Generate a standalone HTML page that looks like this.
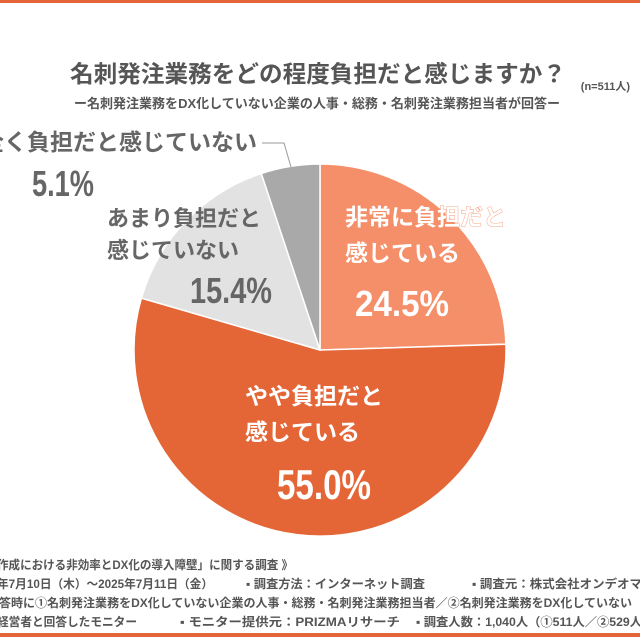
<!DOCTYPE html>
<html><head><meta charset="utf-8"><style>
body{margin:0;width:640px;height:637px;overflow:hidden;background:#fff;font-family:"Liberation Sans","Noto Sans CJK JP",sans-serif;}
</style></head><body>
<svg width="640" height="637" viewBox="0 0 640 637" xmlns="http://www.w3.org/2000/svg" style="font-family:'Liberation Sans','Noto Sans CJK JP',sans-serif;font-weight:bold">
<rect x="0" y="0" width="640" height="3" fill="#E5653A"/>
<rect x="0" y="633" width="640" height="4" fill="#E5653A"/>
<text x="70" y="82" font-size="23.5" fill="#555" textLength="496" lengthAdjust="spacingAndGlyphs">名刺発注業務をどの程度負担だと感じますか？</text>
<text x="630" y="90" text-anchor="end" font-size="11" fill="#555">(n=511人)</text>
<text x="74" y="108" font-size="13" fill="#555" textLength="486" lengthAdjust="spacingAndGlyphs">ー名刺発注業務をDX化していない企業の人事・総務・名刺発注業務担当者が回答ー</text>
<g stroke="#fff" stroke-width="1.5">
<path d="M320,350 L320,164 A186,186 0 0 1 505.9,344.2 Z" fill="#F58F6A"/>
<path d="M320,350 L505.9,344.2 A186,186 0 1 1 141.4,298.1 Z" fill="#E46535"/>
<path d="M320,350 L141.4,298.1 A186,186 0 0 1 261.3,173.5 Z" fill="#E2E2E2"/>
<path d="M320,350 L261.3,173.5 A186,186 0 0 1 320,164 Z" fill="#A9A9A9"/>
</g>
<polyline points="262,143 284,143 291,167" fill="none" stroke="#999" stroke-width="1"/>
<text x="257" y="150" text-anchor="end" font-size="23" fill="#666">全く負担だと感じていない</text>
<text x="32" y="196" font-size="36" fill="#666" textLength="62" lengthAdjust="spacingAndGlyphs">5.1%</text>
<text x="107" y="226" font-size="22" fill="#666">あまり負担だと</text>
<text x="107" y="258" font-size="22" fill="#666">感じていない</text>
<text x="190" y="303" font-size="36" fill="#666" textLength="82" lengthAdjust="spacingAndGlyphs">15.4%</text>
<text x="345" y="225" font-size="23" fill="#fff" stroke="#F58F6A" stroke-width="0.8" paint-order="stroke">非常に負担だと</text>
<text x="345" y="261" font-size="23" fill="#fff">感じている</text>
<text x="355" y="316" font-size="36" fill="#fff" textLength="94" lengthAdjust="spacingAndGlyphs">24.5%</text>
<text x="245" y="404" font-size="23" fill="#fff">やや負担だと</text>
<text x="245" y="440" font-size="23" fill="#fff">感じている</text>
<text x="277" y="499" font-size="42" fill="#fff" textLength="94" lengthAdjust="spacingAndGlyphs">55.0%</text>
<g font-size="12" fill="#555" lengthAdjust="spacingAndGlyphs">
<text x="-3" y="569" textLength="296" lengthAdjust="spacingAndGlyphs">作成における非効率とDX化の導入障壁」に関する調査 》</text>
<text x="-3" y="588" textLength="216" lengthAdjust="spacingAndGlyphs">年7月10日（木）～2025年7月11日（金）</text>
<text x="246" y="588" textLength="179" lengthAdjust="spacingAndGlyphs">▪ 調査方法：インターネット調査</text>
<text x="472" y="588" textLength="170" lengthAdjust="spacingAndGlyphs">▪ 調査元：株式会社オンデオマ</text>
<text x="-1" y="607" textLength="633" lengthAdjust="spacingAndGlyphs">答時に①名刺発注業務をDX化していない企業の人事・総務・名刺発注業務担当者／②名刺発注業務をDX化していない</text>
<text x="-3" y="626" textLength="140" lengthAdjust="spacingAndGlyphs">経営者と回答したモニター</text>
<text x="180" y="626" textLength="220" lengthAdjust="spacingAndGlyphs">▪ モニター提供元：PRIZMAリサーチ</text>
<text x="416" y="626" textLength="226" lengthAdjust="spacingAndGlyphs">▪ 調査人数：1,040人（①511人／②529人</text>
</g>
</svg>
</body></html>
